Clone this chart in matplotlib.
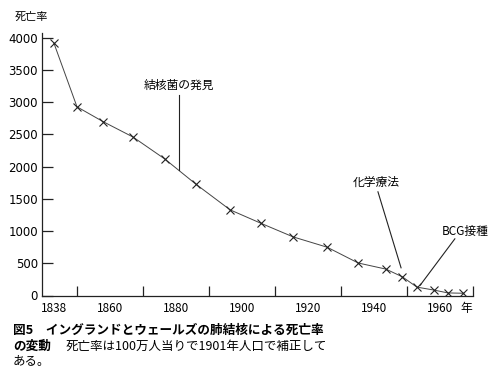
#!/usr/bin/env python3
"""
Tuberculosis death rate in England and Wales (fig. 5), redrawn with matplotlib.
"""

import matplotlib
matplotlib.use("Agg")
import matplotlib.pyplot as plt

plt.rcParams['font.family'] = ['Noto Sans CJK JP', 'DejaVu Sans']

# data
years = [1843, 1850, 1857.9, 1867, 1876.6, 1886, 1896.4, 1905.8, 1915.5,
         1925.8, 1935.2, 1943.6, 1948.6, 1953, 1958.1, 1962.4, 1967]
rates = [3920, 2930, 2700, 2460, 2120, 1730, 1330, 1120, 910,
         750, 505, 410, 290, 130, 85, 40, 35]

ytick_vals = [0, 500, 1000, 1500, 2000, 2500, 3000, 3500, 4000]
xtick_marks = [1850, 1860, 1870, 1880, 1890, 1900, 1910, 1920, 1930, 1940, 1950, 1960, 1970]
xlabel_pos = [1843, 1860, 1880, 1900, 1920, 1940, 1960, 1968]
xlabel_txt = ["1838", "1860", "1880", "1900", "1920", "1940", "1960", "年"]

# annotations: text, text position, line start, line end
notes = [
    ("結核菌の発見", (1881, 3260), (1881, 3110), (1881, 1950)),
    ("化学療法", (1940.6, 1760), (1941.2, 1610), (1948.2, 430)),
    ("BCG接種", (1967.5, 990), (1964.5, 880), (1954.0, 160)),
]

fig = plt.figure(figsize=(5.03, 3.75), dpi=100)
ax = fig.add_axes([42 / 503, 1 - 295.5 / 375, (473 - 42) / 503, (295.5 - 33) / 375])

ax.plot(years, rates, color="#444444", lw=0.7, marker="x", ms=6,
        mew=0.8, mec="#222222")

ax.set_xlim(1839.4, 1970)
ax.set_ylim(0, 4076)

for s in ["top", "right"]:
    ax.spines[s].set_visible(False)
for s in ["left", "bottom"]:
    ax.spines[s].set_color("#222222")
    ax.spines[s].set_linewidth(0.9)

ax.set_yticks(ytick_vals)
ax.set_yticklabels([str(v) for v in ytick_vals], fontsize=8.5, family="DejaVu Sans")
ax.tick_params(axis="y", direction="in", length=8, width=0.9, pad=3, color="#222222")

ax.set_xticks(xtick_marks, minor=True)
ax.tick_params(axis="x", which="minor", direction="in", length=7, width=0.9, color="#222222")
ax.set_xticks(xlabel_pos)
ax.set_xticklabels(xlabel_txt, fontsize=8.5)
ax.tick_params(axis="x", which="major", length=0, pad=5)

for txt, tpos, p0, p1 in notes:
    ax.text(tpos[0], tpos[1], txt, fontsize=8.5, ha="center", va="center")
    ax.plot([p0[0], p1[0]], [p0[1], p1[1]], color="#222222", lw=0.8)

fig.text(15 / 503, 1 - 17 / 375, "死亡率", fontsize=8, va="center", ha="left")

fig.text(13 / 503, 1 - 330 / 375, "図5　イングランドとウェールズの肺結核による死亡率",
         fontsize=9.1, fontweight="bold", va="center", ha="left")
fig.text(13 / 503, 1 - 346 / 375, "の変動", fontsize=9.1, fontweight="bold",
         va="center", ha="left")
fig.text(66 / 503, 1 - 346 / 375, "死亡率は100万人当りで1901年人口で補正して",
         fontsize=9.0, va="center", ha="left")
fig.text(13 / 503, 1 - 362 / 375, "ある。", fontsize=9.0, va="center", ha="left")

fig.savefig("out.png", dpi=100)
plt.close(fig)
